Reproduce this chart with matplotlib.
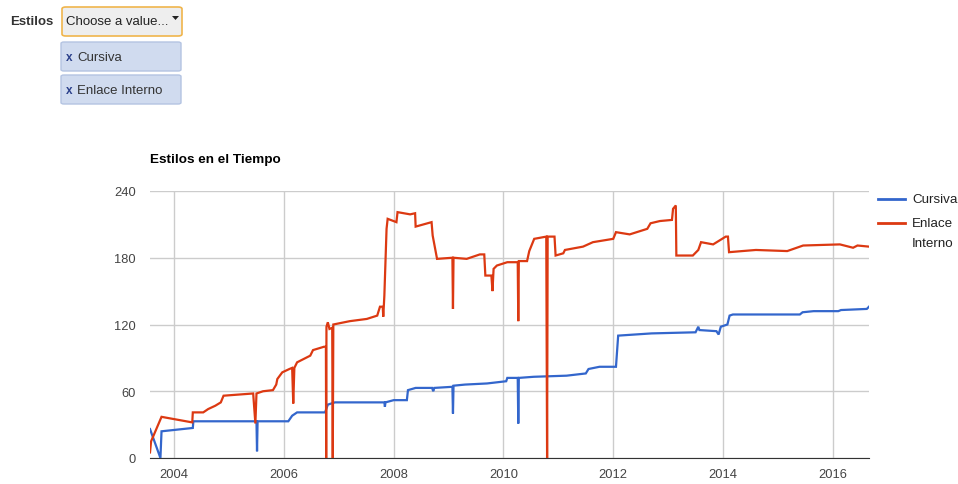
import matplotlib.pyplot as plt
from matplotlib.patches import FancyBboxPatch, Polygon
from matplotlib.lines import Line2D

plt.rcParams['font.family'] = ['Liberation Sans', 'DejaVu Sans']

W, H = 958, 485

# serie "Cursiva" (anio decimal, cantidad)
cursiva_x = [2003.56, 2003.75, 2003.77, 2004.34, 2004.35, 2005.50, 2005.51, 2005.52,
             2006.08, 2006.15, 2006.24, 2006.75, 2006.80, 2006.93, 2007.20, 2007.83,
             2007.84, 2007.85, 2008.00, 2008.24, 2008.26, 2008.40, 2008.70, 2008.72,
             2008.74, 2009.07, 2009.08, 2009.09, 2009.30, 2009.70, 2010.05, 2010.07,
             2010.26, 2010.27, 2010.28, 2010.55, 2011.15, 2011.50, 2011.55, 2011.75,
             2012.05, 2012.09, 2012.70, 2013.50, 2013.55, 2013.57, 2013.88, 2013.92,
             2013.96, 2014.08, 2014.12, 2014.18, 2015.40, 2015.45, 2015.65, 2016.10,
             2016.15, 2016.62, 2016.66]
cursiva_y = [26, 0, 24, 27, 33, 33, 6, 33,
             33, 38, 41, 41, 48, 50, 50, 50,
             46, 50, 52, 52, 61, 63, 63, 60,
             63, 64, 40, 65, 66, 67, 69, 72,
             72, 31, 72, 73, 74, 76, 80, 82,
             82, 110, 112, 113, 118, 115, 114, 111,
             118, 120, 128, 129, 129, 131, 132, 132,
             133, 134, 136]

# serie "Enlace Interno"
enlace_x = [2003.56, 2003.58, 2003.77, 2004.33, 2004.34, 2004.53, 2004.62, 2004.75,
            2004.85, 2004.90, 2005.44, 2005.48, 2005.50, 2005.62, 2005.80, 2005.86,
            2005.88, 2005.97, 2006.10, 2006.15, 2006.17, 2006.19, 2006.24, 2006.40,
            2006.48, 2006.53, 2006.73, 2006.765, 2006.77, 2006.775, 2006.80, 2006.83,
            2006.88, 2006.89, 2006.90, 2007.00, 2007.20, 2007.51, 2007.70, 2007.75,
            2007.80, 2007.81, 2007.83, 2007.87, 2007.89, 2008.05, 2008.07, 2008.30,
            2008.39, 2008.40, 2008.69, 2008.71, 2008.79, 2009.07, 2009.08, 2009.09,
            2009.33, 2009.57, 2009.65, 2009.67, 2009.78, 2009.80, 2009.82, 2009.88,
            2010.07, 2010.26, 2010.27, 2010.28, 2010.43, 2010.47, 2010.56, 2010.78,
            2010.795, 2010.805, 2010.93, 2010.95, 2011.09, 2011.12, 2011.45, 2011.63,
            2012.00, 2012.05, 2012.30, 2012.62, 2012.68, 2012.85, 2013.07, 2013.09,
            2013.14, 2013.15, 2013.45, 2013.55, 2013.60, 2013.82, 2014.05, 2014.09,
            2014.11, 2014.35, 2014.60, 2015.17, 2015.46, 2016.13, 2016.37, 2016.45,
            2016.66]
enlace_y = [5, 15, 37, 32, 41, 41, 44, 47,
            50, 56, 58, 31, 58, 60, 61, 66,
            71, 77, 80, 81, 49, 81, 86, 90,
            92, 97, 100, 100, 0, 118, 122, 116,
            117, 0, 120, 121, 123, 125, 128, 136,
            136, 127, 146, 206, 215, 212, 221, 219,
            220, 208, 212, 200, 179, 180, 134, 180,
            179, 183, 183, 164, 164, 150, 170, 173,
            176, 176, 123, 177, 177, 186, 197, 199,
            0, 199, 199, 182, 184, 187, 190, 194,
            197, 203, 201, 206, 211, 213, 214, 224,
            227, 182, 182, 187, 194, 192, 199, 199,
            185, 186, 187, 186, 191, 192, 189, 191,
            190]

y_ticks = [0, 60, 120, 180, 240]
x_ticks = [2004, 2006, 2008, 2010, 2012, 2014, 2016]
blue, red = '#3366cc', '#dc3912'


def fx(px):
    return px / W


def fy(py):
    return 1 - py / H


fig = plt.figure(figsize=(W / 100, H / 100), dpi=100)
ax = fig.add_axes([fx(150), fy(459), fx(869) - fx(150), fy(192) - fy(459)])

ax.plot(cursiva_x, cursiva_y, color=blue, lw=1.6, solid_joinstyle='miter', zorder=3)
ax.plot(enlace_x, enlace_y, color=red, lw=1.6, solid_joinstyle='miter', zorder=4)

ax.set_xlim(2003.56, 2016.66)
ax.set_ylim(0, 240)
ax.set_yticks(y_ticks)
ax.set_xticks(x_ticks)
ax.set_xticklabels([str(t) for t in x_ticks])
ax.grid(True, color='#cccccc', lw=1)
ax.set_axisbelow(True)
for s in ['top', 'right', 'left']:
    ax.spines[s].set_visible(False)
ax.spines['bottom'].set_color('#333333')
ax.tick_params(length=0, labelsize=9.3, colors='#444444')
ax.tick_params(axis='y', pad=10)
ax.tick_params(axis='x', pad=7)

fig.text(fx(150), fy(160), 'Estilos en el Tiempo', fontsize=9.7, fontweight='bold',
         color='#000000', va='center', ha='left')

# leyenda
fig.add_artist(Line2D([fx(878), fx(905)], [fy(200), fy(200)], color=blue, lw=2))
fig.text(fx(912), fy(200), 'Cursiva', fontsize=9.6, color='#222222', va='center')
fig.add_artist(Line2D([fx(878), fx(905)], [fy(224), fy(224)], color=red, lw=2))
fig.text(fx(912), fy(224), 'Enlace', fontsize=9.6, color='#222222', va='center')
fig.text(fx(912), fy(244), 'Interno', fontsize=9.6, color='#222222', va='center')

# selector de estilos
fig.text(fx(10), fy(22), 'Estilos', fontsize=9.5, fontweight='bold', color='#333333', va='center')
box = FancyBboxPatch((fx(62), fy(37)), fx(120), fy(0) - fy(29),
                     boxstyle='round,pad=0,rounding_size=0.004',
                     fc='#eeeeee', ec='#f0b54c', lw=1.2, transform=fig.transFigure)
fig.add_artist(box)
fig.text(fx(66), fy(22), 'Choose a value...', fontsize=9.5, color='#222222', va='center')
fig.add_artist(Polygon([[fx(172), fy(17)], [fx(179), fy(17)], [fx(175.5), fy(21)]],
                       closed=True, fc='#222222', ec='none', transform=fig.transFigure))

for top, label in [(43, 'Cursiva'), (76, 'Enlace Interno')]:
    chip = FancyBboxPatch((fx(61), fy(top + 29)), fx(120), fy(0) - fy(29),
                          boxstyle='round,pad=0,rounding_size=0.003',
                          fc='#d0dbef', ec='#b4c4e2', lw=1, transform=fig.transFigure)
    fig.add_artist(chip)
    fig.text(fx(66), fy(top + 15), 'x', fontsize=8.5, fontweight='bold', color='#2a3f8a', va='center')
    fig.text(fx(77), fy(top + 15), label, fontsize=9.5, color='#333333', va='center')

fig.savefig('out.png', dpi=100)
